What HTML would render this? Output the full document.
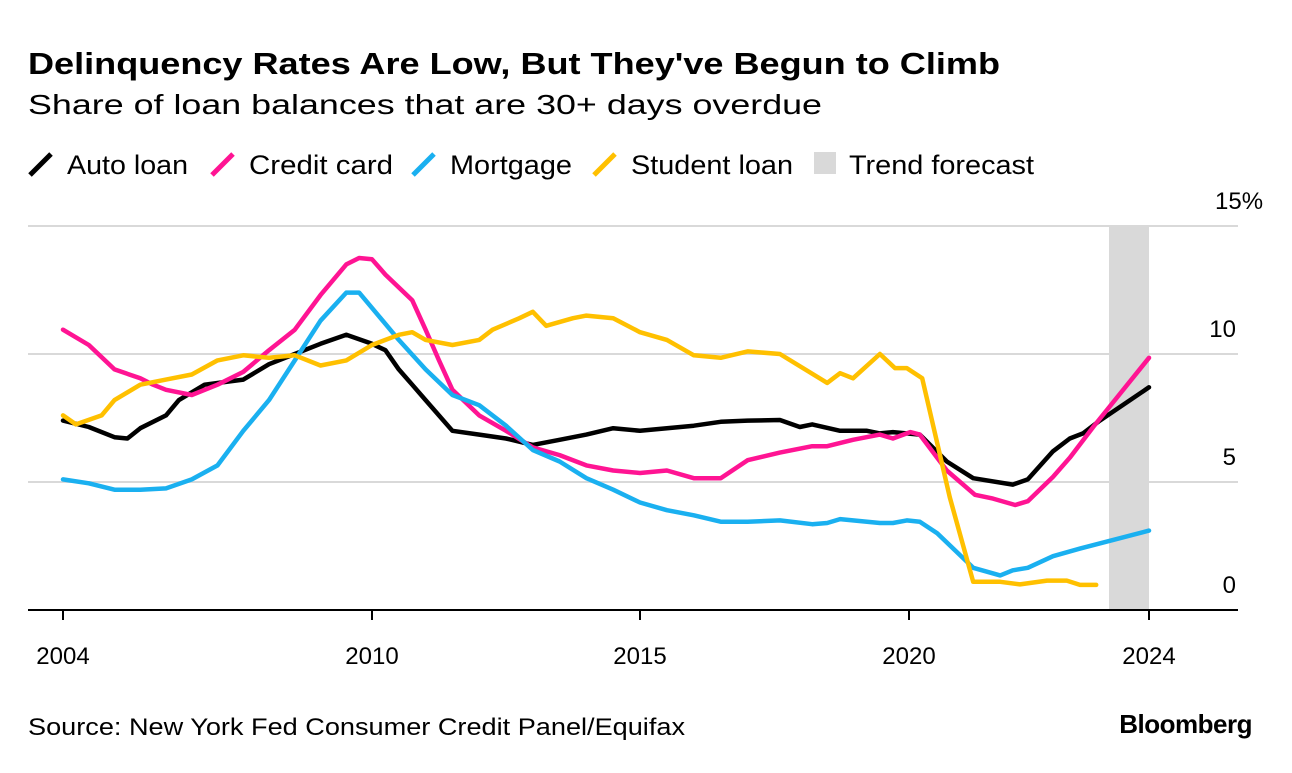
<!DOCTYPE html>
<html><head><meta charset="utf-8">
<style>
body{margin:0;background:#fff;width:1292px;height:768px;overflow:hidden;font-family:"Liberation Sans",sans-serif;color:#000}
svg text{font-family:"Liberation Sans",sans-serif}
</style></head>
<body>
<svg id="chart" width="1292" height="768">
<text x="28" y="74" font-size="31" font-weight="bold" textLength="972" lengthAdjust="spacingAndGlyphs">Delinquency Rates Are Low, But They've Begun to Climb</text>
<text x="28" y="114" font-size="28" textLength="794" lengthAdjust="spacingAndGlyphs">Share of loan balances that are 30+ days overdue</text>
<g id="legend"></g>
<g id="grid"></g>
<rect id="band" fill="#d9d9d9"></rect>
<g id="series"></g>
<g id="xaxis"></g>
<text x="28" y="735" font-size="24" textLength="657" lengthAdjust="spacingAndGlyphs">Source: New York Fed Consumer Credit Panel/Equifax</text>
<text x="1252" y="733" font-size="26" font-weight="bold" text-anchor="end" letter-spacing="-0.5">Bloomberg</text>
</svg>
<script>
const yTicks=[0,5,10,15];
const xTicks=[2004,2010,2015,2020,2024];
const autoX=[2004,2004.5,2005,2005.25,2005.5,2006,2006.25,2006.75,2007.5,2008,2008.5,2009,2009.5,2010,2010.25,2010.5,2010.75,2011,2011.5,2012,2012.5,2013,2013.5,2014,2014.5,2015,2015.5,2016,2016.5,2017,2017.6,2017.97,2018.2,2018.72,2019.22,2019.46,2019.7,2020.18,2020.63,2021.07,2021.73,2021.98,2022.4,2022.68,2022.9,2023.18,2024];
const autoY=[7.4,7.15,6.75,6.7,7.1,7.6,8.2,8.8,9.0,9.6,10.0,10.4,10.75,10.4,10.15,9.4,8.8,8.2,7.0,6.85,6.7,6.45,6.65,6.85,7.1,7.0,7.1,7.2,7.35,7.4,7.42,7.15,7.25,7.0,7.0,6.9,6.95,6.85,5.8,5.15,4.9,5.1,6.2,6.7,6.9,7.4,8.7];
const cardX=[2004,2004.5,2005,2005.5,2005.75,2006,2006.5,2007,2007.5,2008,2008.5,2009,2009.5,2009.75,2010,2010.25,2010.75,2011,2011.25,2011.5,2012,2012.5,2013,2013.5,2014,2014.5,2015,2015.5,2016,2016.5,2017,2017.6,2018.2,2018.48,2018.96,2019.46,2019.7,2020.02,2020.18,2020.63,2021.1,2021.4,2021.77,2021.98,2022.4,2022.68,2023.07,2024];
const cardY=[10.95,10.35,9.4,9.05,8.8,8.6,8.4,8.8,9.3,10.15,10.95,12.3,13.5,13.75,13.7,13.1,12.1,10.95,9.75,8.6,7.6,7.0,6.35,6.05,5.65,5.45,5.35,5.45,5.15,5.15,5.85,6.15,6.4,6.4,6.65,6.85,6.7,6.95,6.85,5.45,4.5,4.35,4.1,4.25,5.2,5.95,7.15,9.85];
const mortX=[2004,2004.5,2005,2005.5,2006,2006.5,2007,2007.5,2008,2008.5,2009,2009.5,2009.75,2010,2010.5,2011,2011.5,2012,2012.5,2013,2013.5,2014,2014.5,2015,2015.5,2016,2016.5,2017,2017.6,2018.2,2018.48,2018.72,2019.46,2019.7,2019.96,2020.18,2020.47,2021.07,2021.52,2021.73,2021.98,2022.4,2022.85,2024];
const mortY=[5.1,4.95,4.7,4.7,4.75,5.1,5.65,7.0,8.2,9.75,11.3,12.4,12.4,11.8,10.55,9.4,8.4,8.0,7.2,6.25,5.8,5.15,4.7,4.2,3.9,3.7,3.45,3.45,3.5,3.35,3.4,3.55,3.4,3.4,3.5,3.45,3.0,1.65,1.35,1.55,1.65,2.1,2.4,3.1];
const studX=[2004,2004.25,2004.75,2005,2005.5,2006,2006.5,2007,2007.5,2008,2008.5,2009,2009.5,2010,2010.5,2010.75,2011,2011.5,2012,2012.25,2012.75,2013,2013.25,2013.75,2014,2014.5,2015,2015.5,2016,2016.5,2017,2017.6,2018.48,2018.72,2018.96,2019.46,2019.74,2019.96,2020.22,2020.68,2021.07,2021.52,2021.85,2022.3,2022.63,2022.85,2023.12];
const studY=[7.6,7.25,7.6,8.2,8.8,9.0,9.2,9.75,9.95,9.85,9.95,9.55,9.75,10.35,10.75,10.85,10.55,10.35,10.55,10.95,11.4,11.65,11.1,11.4,11.5,11.4,10.85,10.55,9.95,9.85,10.1,10.0,8.87,9.25,9.05,10.0,9.45,9.45,9.05,4.4,1.1,1.1,1.0,1.15,1.15,0.98,0.98];
const tickPx=[63,372,640,909,1149];
function xs(v){for(let i=0;i<xTicks.length-1;i++){if(v<=xTicks[i+1]||i==xTicks.length-2){return tickPx[i]+(v-xTicks[i])/(xTicks[i+1]-xTicks[i])*(tickPx[i+1]-tickPx[i]);}}}
function ys(v){return 610-v*25.6;}
const NS="http://www.w3.org/2000/svg";
function mk(t,a,p){const e=document.createElementNS(NS,t);for(const k in a)e.setAttribute(k,a[k]);p.appendChild(e);return e;}
const grid=document.getElementById('grid');
yTicks.forEach(v=>{
 if(v>0){const l=mk('line',{x1:28,x2:1238,y1:ys(v),y2:ys(v),stroke:'#d9d9d9','stroke-width':2},grid);
 
 }
 const t=mk('text',{x:v==15?1215:1236,y:ys(v)-17,'font-size':24,'text-anchor':v==15?'start':'end'},grid);
 t.textContent=v==15?'15%':String(v);
 
 
});
const band=document.getElementById('band');
band.setAttribute('x',1109);band.setAttribute('width',xs(2024)-1109);
band.setAttribute('y',ys(15));band.setAttribute('height',ys(0)-ys(15));
const sg=document.getElementById('series');
[[autoX,autoY,'#000','auto-loan-line'],[cardX,cardY,'#ff1493','credit-card-line'],[mortX,mortY,'#1ab0f0','mortgage-line'],[studX,studY,'#ffc000','student-loan-line']].forEach(s=>{
 const d=s[0].map((x,i)=>(i?'L':'M')+xs(x).toFixed(1)+','+ys(s[1][i]).toFixed(1)).join(' ');
 const p=mk('path',{d:d,fill:'none',stroke:s[2],'stroke-width':4.5,'stroke-linejoin':'round','stroke-linecap':'round'},sg);
 
 
});
const xa=document.getElementById('xaxis');
const ax=mk('line',{x1:28,x2:1238,y1:610,y2:610,stroke:'#000','stroke-width':2},xa);


xTicks.forEach(v=>{
 const tk=mk('line',{x1:xs(v),x2:xs(v),y1:610,y2:620,stroke:'#000','stroke-width':2},xa);
 
 
 const t=mk('text',{x:xs(v),y:664,'font-size':24,'text-anchor':'middle'},xa);
 t.textContent=v;
 
 
});
const lg=document.getElementById('legend');
const items=[['Auto loan','#000',30,121],['Credit card','#ff1493',212,144],['Mortgage','#1ab0f0',413,122],['Student loan','#ffc000',594,162]];
items.forEach(it=>{
 const g=mk('g',{},lg);
 
 
 mk('line',{x1:it[2],y1:175,x2:it[2]+21,y2:154,stroke:it[1],'stroke-width':5},g);
 const t=mk('text',{x:it[2]+37,y:174,'font-size':27,textLength:it[3],lengthAdjust:'spacingAndGlyphs'},g);t.textContent=it[0];
});
const g=mk('g',{},lg);


mk('rect',{x:814,y:152,width:22,height:22,fill:'#d9d9d9'},g);
const tt=mk('text',{x:849,y:174,'font-size':27,textLength:185,lengthAdjust:'spacingAndGlyphs'},g);tt.textContent='Trend forecast';
</script>
</body></html>
